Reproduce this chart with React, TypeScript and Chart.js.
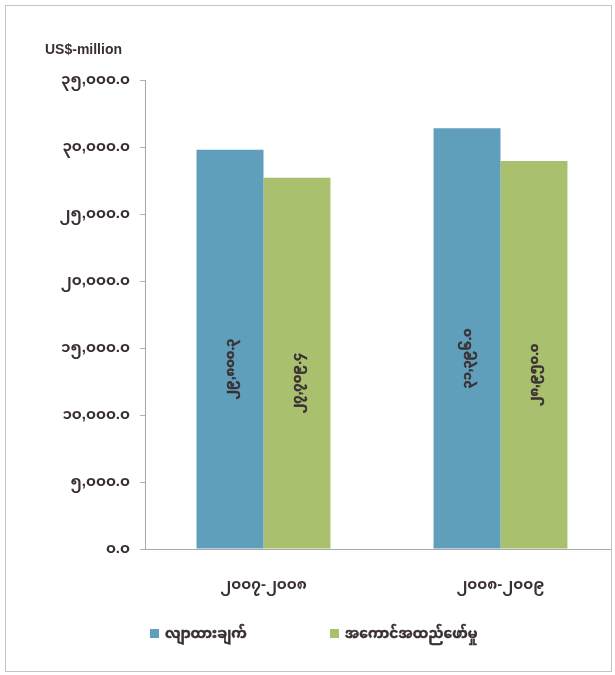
import React, { useEffect, useRef } from "react";
import { Chart, registerables } from "chart.js";

Chart.register(...registerables);

const categories = ["၂၀၀၇-၂၀၀၈", "၂၀၀၈-၂၀၀၉"];
const seriesNames = ["လျာထားချက်", "အကောင်အထည်ဖော်မှု"];
const targetValues = [29800.3, 31396.0];
const actualValues = [27709.4, 28950.0];
const yMin = 0;
const yMax = 35000;
const yStep = 5000;
const unitLabel = "US$-million";

const BLUE = "#609fbb";
const GREEN = "#a9c06e";
const TEXT = "#3a2f33";
const FONT = "'Liberation Sans', 'Noto Sans Myanmar', Padauk, sans-serif";

const toMy = (s: string) => s.replace(/[0-9]/g, (d) => String.fromCharCode(0x1040 + Number(d)));
const fmt = (v: number) =>
  toMy(v.toLocaleString("en-US", { minimumFractionDigits: 1, maximumFractionDigits: 1 }));

const decorPlugin = {
  id: "decor",
  afterDatasetsDraw(chart: any) {
    const ctx = chart.ctx;
    const area = chart.chartArea;
    ctx.save();
    // bar value labels (rotated)
    ctx.font = `bold 13px ${FONT}`;
    ctx.fillStyle = TEXT;
    ctx.strokeStyle = TEXT;
    ctx.lineWidth = 0.4;
    ctx.textAlign = "center";
    ctx.textBaseline = "middle";
    chart.data.datasets.forEach((ds: any, di: number) => {
      const meta = chart.getDatasetMeta(di);
      meta.data.forEach((el: any, i: number) => {
        const cy = (el.y + el.base) / 2 + 20;
        ctx.save();
        ctx.translate(el.x, cy);
        ctx.rotate(-Math.PI / 2);
        ctx.fillText(fmt(ds.data[i]), 0, 0);
        ctx.strokeText(fmt(ds.data[i]), 0, 0);
        ctx.restore();
      });
    });
    // unit label
    ctx.font = `bold 14px ${FONT}`;
    ctx.textAlign = "left";
    ctx.fillText(unitLabel, area.left - 100, area.top - 30);
    // legend
    const ly = area.bottom + 85;
    let lx = area.left + 5;
    chart.data.datasets.forEach((ds: any) => {
      ctx.fillStyle = ds.backgroundColor;
      ctx.fillRect(lx, ly - 5, 9, 9);
      ctx.fillStyle = TEXT;
      ctx.font = `bold 14px ${FONT}`;
      ctx.textAlign = "left";
      ctx.fillText(ds.label, lx + 15, ly);
      ctx.strokeText(ds.label, lx + 15, ly);
      lx += 180;
    });
    ctx.restore();
  },
};

export default function App() {
  const ref = useRef<HTMLCanvasElement | null>(null);
  useEffect(() => {
    if (!ref.current) return;
    const chart = new Chart(ref.current, {
      type: "bar",
      data: {
        labels: categories,
        datasets: [
          { label: seriesNames[0], data: targetValues, backgroundColor: BLUE },
          { label: seriesNames[1], data: actualValues, backgroundColor: GREEN },
        ],
      },
      options: {
        responsive: false,
        animation: false,
        layout: { padding: { left: 0, right: 12, top: 74, bottom: 62 } },
        datasets: { bar: { categoryPercentage: 0.565, barPercentage: 1 } },
        plugins: { legend: { display: false }, tooltip: { enabled: false }, title: { display: false } },
        scales: {
          x: {
            grid: { display: false },
            border: { color: "#a8a8a8" },
            ticks: { color: TEXT, font: { family: FONT, size: 15, weight: "bold" }, padding: 19 },
            afterFit: (s: any) => { s.height = 60; },
          },
          y: {
            min: yMin,
            max: yMax,
            grid: { drawOnChartArea: false, tickLength: 5, color: "#b0b0b0" },
            border: { color: "#a8a8a8" },
            ticks: {
              stepSize: yStep,
              color: TEXT,
              padding: 10,
              font: { family: FONT, size: 15, weight: "bold" },
              callback: (v: any) => fmt(Number(v)),
            },
            afterFit: (s: any) => { s.width = 139; },
          },
        },
      },
      plugins: [decorPlugin],
    });
    return () => chart.destroy();
  }, []);
  return (
    <div
      style={{
        position: "fixed",
        left: 5,
        top: 5,
        width: 607,
        height: 667,
        border: "1px solid #c4c4c4",
        boxSizing: "border-box",
        overflow: "hidden",
        background: "#fff",
      }}
    >
      <canvas ref={ref} width={625} height={665} style={{ display: "block" }} />
    </div>
  );
}
